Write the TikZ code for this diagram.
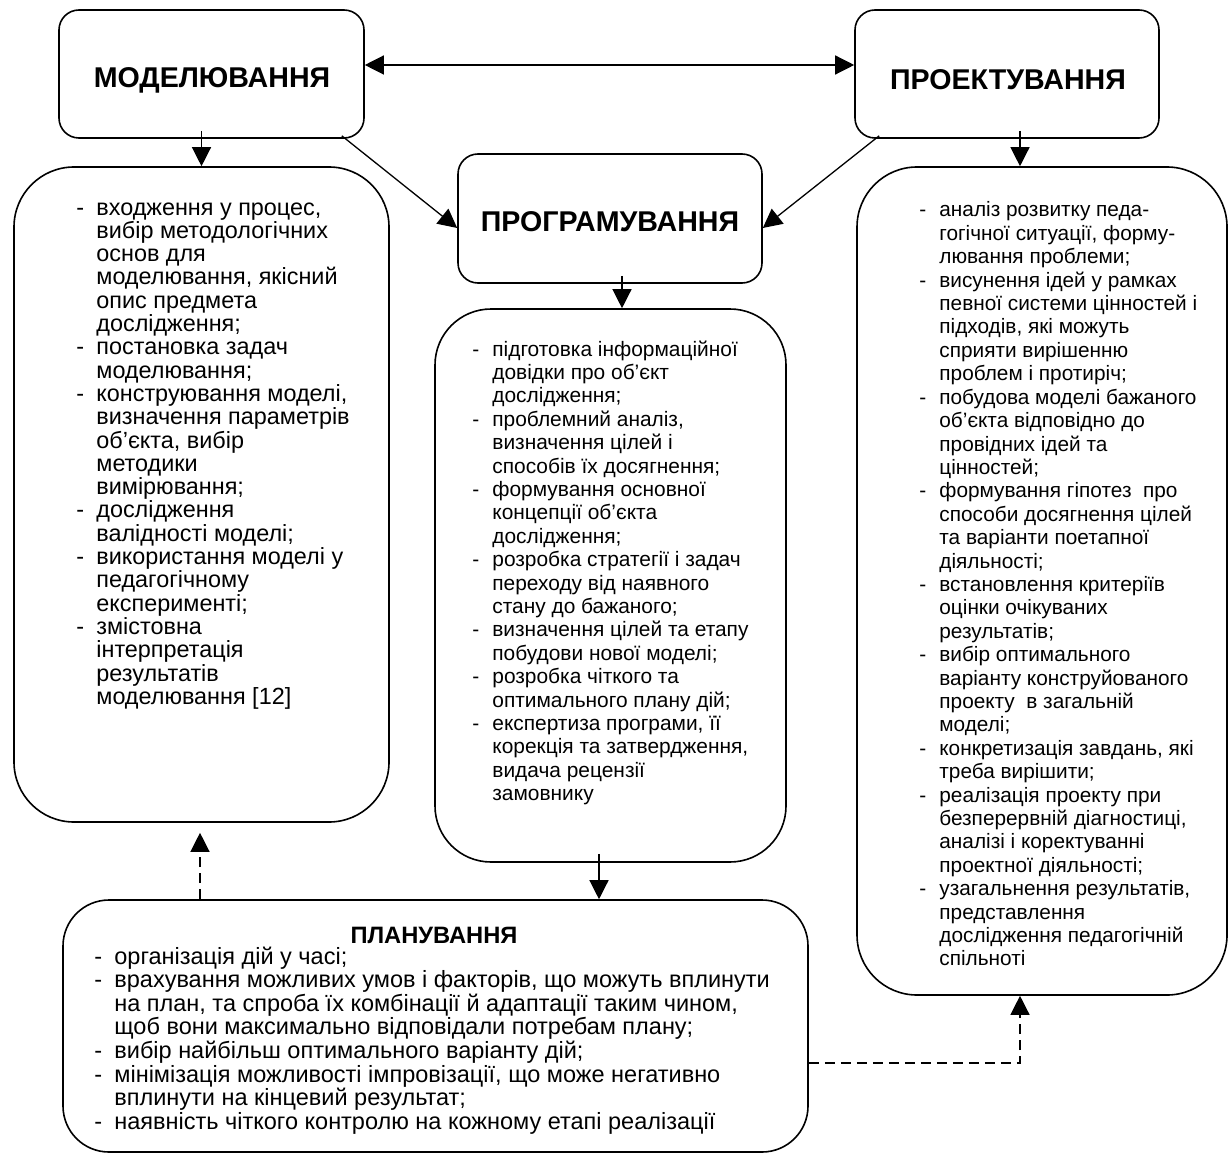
\documentclass[tikz,border=0pt]{standalone}
\usepackage{fontspec}
\setmainfont{Liberation Sans}
\usetikzlibrary{arrows.meta,calc}
\newcommand{\mydash}{\makebox[10pt][l]{-}}
\newcommand{\myind}{\hspace*{10pt}}
\tikzset{
  box/.style={draw, line width=0.8pt, inner sep=0pt},
  head/.style={anchor=base, inner sep=0pt, font=\bfseries\fontsize{14.3}{16}\selectfont},
  txt/.style={anchor=base west, inner sep=0pt, font=\fontsize{11.7}{11.65}\selectfont},
  con/.style={line width=0.65pt, -{Triangle[length=9.5pt,width=9.5pt]}},
  dbl/.style={line width=0.65pt, {Triangle[length=9.5pt,width=9.5pt]}-{Triangle[length=9.5pt,width=9.5pt]}},
  dcon/.style={con, dash pattern=on 5pt off 3pt},
}
\begin{document}
\begin{tikzpicture}[x=0.5pt,y=-0.5pt]
\fill[white] (0,0) rectangle (1230,1155);
\useasboundingbox (0,0) rectangle (1230,1155);

% boxes
\node[box, rounded corners=10pt, minimum width=152.5pt, minimum height=64pt] (mod) at (211.5,74) {};
\node[box, rounded corners=10pt, minimum width=152pt, minimum height=64pt] (proj) at (1007,74) {};
\node[box, rounded corners=10pt, minimum width=152pt, minimum height=64.5pt] (prog) at (610,218.5) {};
\node[box, rounded corners=30pt, minimum width=187.5pt, minimum height=327.5pt] (lbox) at (201.5,494.5) {};
\node[box, rounded corners=28pt, minimum width=175.5pt, minimum height=276.5pt] (mbox) at (610.5,585.5) {};
\node[box, rounded corners=30pt, minimum width=185pt, minimum height=414pt] (rbox) at (1042,581) {};
\node[box, rounded corners=23pt, minimum width=372.5pt, minimum height=126pt] (plan) at (435.5,1026) {};

% headings
\node[head] (modt) at (212,87.5) {МОДЕЛЮВАННЯ};
\node[head] (projt) at (1008,90) {ПРОЕКТУВАННЯ};
\node[head] (progt) at (610,232) {ПРОГРАМУВАННЯ};
\node[head, font=\bfseries\fontsize{11.85}{13}\selectfont] (plant) at (434,943) {ПЛАНУВАННЯ};

% left list
\node[txt] (ltxt) at (76,215) {\parbox[t]{180pt}{\raggedright
\mydash входження у процес,\\
\myind вибір методологічних\\
\myind основ для\\
\myind моделювання, якісний\\
\myind опис предмета\\
\myind дослідження;\\
\mydash постановка задач\\
\myind моделювання;\\
\mydash конструювання моделі,\\
\myind визначення параметрів\\
\myind об’єкта, вибір\\
\myind методики\\
\myind вимірювання;\\
\mydash дослідження\\
\myind валідності моделі;\\
\mydash використання моделі у\\
\myind педагогічному\\
\myind експерименті;\\
\mydash змістовна\\
\myind інтерпретація\\
\myind результатів\\
\myind моделювання [12]}};

% middle list
\node[txt, font=\fontsize{10.45}{11.7}\selectfont] (mtxt) at (472,356) {\parbox[t]{170pt}{\raggedright
\mydash підготовка інформаційної\\
\myind довідки про об’єкт\\
\myind дослідження;\\
\mydash проблемний аналіз,\\
\myind визначення цілей і\\
\myind способів їх досягнення;\\
\mydash формування основної\\
\myind концепції об’єкта\\
\myind дослідження;\\
\mydash розробка стратегії і задач\\
\myind переходу від наявного\\
\myind стану до бажаного;\\
\mydash визначення цілей та етапу\\
\myind побудови нової моделі;\\
\mydash розробка чіткого та\\
\myind оптимального плану дій;\\
\mydash експертиза програми, її\\
\myind корекція та затвердження,\\
\myind видача рецензії\\
\myind замовнику}};

% right list
\node[txt, font=\fontsize{10.4}{11.7}\selectfont] (rtxt) at (919,217) {\parbox[t]{170pt}{\raggedright
\mydash аналіз розвитку педа-\\
\myind гогічної ситуації, форму-\\
\myind лювання проблеми;\\
\mydash висунення ідей у рамках\\
\myind певної системи цінностей і\\
\myind підходів, які можуть\\
\myind сприяти вирішенню\\
\myind проблем і протиріч;\\
\mydash побудова моделі бажаного\\
\myind об’єкта відповідно до\\
\myind провідних ідей та\\
\myind цінностей;\\
\mydash формування гіпотез\ \ про\\
\myind способи досягнення цілей\\
\myind та варіанти поетапної\\
\myind діяльності;\\
\mydash встановлення критеріїв\\
\myind оцінки очікуваних\\
\myind результатів;\\
\mydash вибір оптимального\\
\myind варіанту конструйованого\\
\myind проекту\ \ в загальній\\
\myind моделі;\\
\mydash конкретизація завдань, які\\
\myind треба вирішити;\\
\mydash реалізація проекту при\\
\myind безперервній діагностиці,\\
\myind аналізі і коректуванні\\
\myind проектної діяльності;\\
\mydash узагальнення результатів,\\
\myind представлення\\
\myind дослідження педагогічній\\
\myind спільноті}};

% planning list
\node[txt, font=\fontsize{11.75}{11.8}\selectfont] (ptxt) at (94,964) {\parbox[t]{360pt}{\raggedright
\mydash організація дій у часі;\\
\mydash врахування можливих умов і факторів, що можуть вплинути\\
\myind на план, та спроба їх комбінації й адаптації таким чином,\\
\myind щоб вони максимально відповідали потребам плану;\\
\mydash вибір найбільш оптимального варіанту дій;\\
\mydash мінімізація можливості імпровізації, що може негативно\\
\myind вплинути на кінцевий результат;\\
\mydash наявність чіткого контролю на кожному етапі реалізації}};

% connectors
\draw[dbl] ([yshift=4.5pt]mod.east) -- ([yshift=4.5pt]proj.west);
\draw[con] ($(lbox.north |- mod.south)+(0pt,4pt)$) -- (lbox.north);
\draw[con] ($(proj.south)+(6.5pt,4pt)$) -- ($(proj.south |- rbox.north)+(6.5pt,0pt)$);
\draw[con] ($(prog.south)+(6pt,4pt)$) -- ($(prog.south |- mbox.north)+(6pt,0pt)$);
\draw[con] ($(mbox.south)+(-5.75pt,4.5pt)$) -- ($(mbox.south |- plan.north)+(-5.75pt,0pt)$);
\draw[con] ($(mod.south east)+(-11.5pt,1.5pt)$) -- ([yshift=-4.75pt]prog.west);
\draw[con] ($(proj.south west)+(12.5pt,1.5pt)$) -- ([yshift=-4.75pt]prog.east);
\draw[dcon] ($(lbox.south |- plan.north)+(-0.75pt,0pt)$) -- ($(lbox.south)+(-0.75pt,-5pt)$);
\draw[dcon] ([yshift=-18.5pt]plan.east) -| ($(rbox.south)+(-11pt,0pt)$);
\end{tikzpicture}
\end{document}
